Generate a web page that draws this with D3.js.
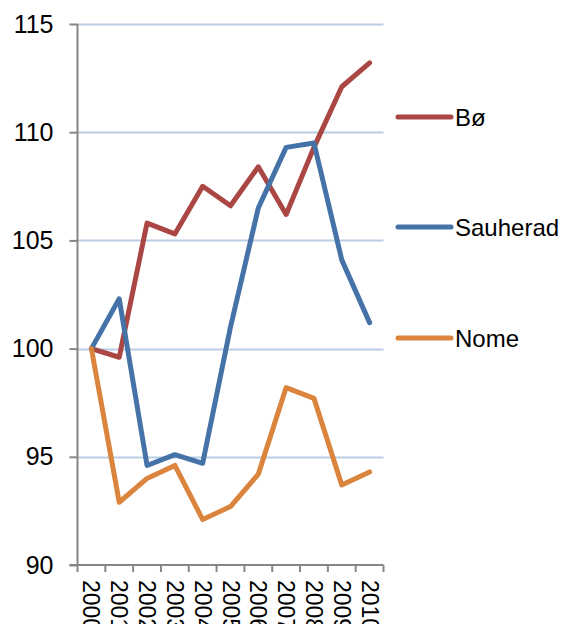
<!DOCTYPE html>
<html><head><meta charset="utf-8">
<script src="https://cdn.jsdelivr.net/npm/d3@7"></script>
<style>html,body{margin:0;padding:0;background:#fff;}svg{display:block;font-family:"Liberation Sans",Arial,sans-serif;}</style>
</head><body>
<svg id="chart" width="561" height="624"></svg>
<script>
const years = ["2000","2001","2002","2003","2004","2005","2006","2007","2008","2009","2010"];
const seriesNames = ["Bø","Sauherad","Nome"];
const boValues = [100, 99.6, 105.8, 105.3, 107.5, 106.6, 108.4, 106.2, 109.3, 112.1, 113.2];
const sauheradValues = [100, 102.3, 94.6, 95.1, 94.7, 101.0, 106.5, 109.3, 109.5, 104.1, 101.2];
const nomeValues = [100, 92.9, 94.0, 94.6, 92.1, 92.7, 94.2, 98.2, 97.7, 93.7, 94.3];
const yTicks = [90, 95, 100, 105, 110, 115];
const colors = ["#AA4643", "#4572A7", "#DB843D"];

const svg = d3.select("#chart");
const pLeft = 77.5, pRight = 383.5, pTop = 24, pBottom = 565;
const x = d3.scaleBand().domain(years).range([pLeft, pRight]).padding(0);
const y = d3.scaleLinear().domain([90, 115]).range([pBottom, pTop]);

// gridlines
svg.append("g").selectAll("line").data(yTicks.filter(d => d > 90)).join("line")
  .attr("x1", pLeft).attr("x2", pRight)
  .attr("y1", d => Math.round(y(d)) + 0.5).attr("y2", d => Math.round(y(d)) + 0.5)
  .attr("stroke", "#B9CDE5").attr("stroke-width", 2);

// y axis
const yAxis = d3.axisLeft(y).tickValues(yTicks).tickSize(8).tickPadding(16).tickFormat(d3.format("d"));
const gy = svg.append("g").attr("transform", `translate(${pLeft},0)`).call(yAxis);
gy.select(".domain").attr("stroke", "#868686").attr("stroke-width", 2).attr("d", `M0,${pTop}V${pBottom}`);
gy.selectAll(".tick line").attr("stroke", "#868686").attr("stroke-width", 2);
gy.selectAll(".tick text").attr("font-size", 25).attr("fill", "#000").attr("font-family", "Liberation Sans, Arial, sans-serif");

// x axis
const xAxis = d3.axisBottom(x).tickSize(0).tickPadding(0);
const gx = svg.append("g").attr("transform", `translate(0,${pBottom})`).call(xAxis);
gx.select(".domain").attr("stroke", "#868686").attr("stroke-width", 2).attr("d", `M${pLeft-8},0H${pRight}`);
gx.selectAll(".tick text").remove();
const bounds = years.map(d => x(d)).concat([pRight]);
gx.selectAll("line.bt").data(bounds).join("line").attr("class", "bt")
  .attr("x1", d => d).attr("x2", d => d).attr("y1", 0).attr("y2", 7)
  .attr("stroke", "#868686").attr("stroke-width", 2);
gx.selectAll("text.yl").data(years).join("text").attr("class", "yl")
  .attr("transform", d => `translate(${x(d) + x.bandwidth()/2},15) rotate(90)`)
  .attr("text-anchor", "start").attr("dominant-baseline", "central")
  .attr("font-size", 23).attr("fill", "#000")
  .text(d => d);

// lines
const allSeries = [boValues, sauheradValues, nomeValues];
const line = d3.line().x((d, i) => x(years[i]) + x.bandwidth()/2).y(d => y(d));
svg.append("g").selectAll("path").data(allSeries).join("path")
  .attr("d", d => line(d)).attr("fill", "none")
  .attr("stroke", (d, i) => colors[i]).attr("stroke-width", 5)
  .attr("stroke-linejoin", "round").attr("stroke-linecap", "round");

// legend
const legendY = [117, 227, 338];
const lg = svg.append("g").selectAll("g").data(seriesNames).join("g")
  .attr("transform", (d, i) => `translate(0,${legendY[i]})`);
lg.append("line").attr("x1", 398).attr("x2", 451).attr("y1", 0).attr("y2", 0)
  .attr("stroke", (d, i) => colors[i]).attr("stroke-width", 5).attr("stroke-linecap", "round");
lg.append("text").attr("x", 455).attr("y", 0).attr("dominant-baseline", "central")
  .attr("font-size", 24).attr("fill", "#000").text(d => d);
</script>
</body></html>
